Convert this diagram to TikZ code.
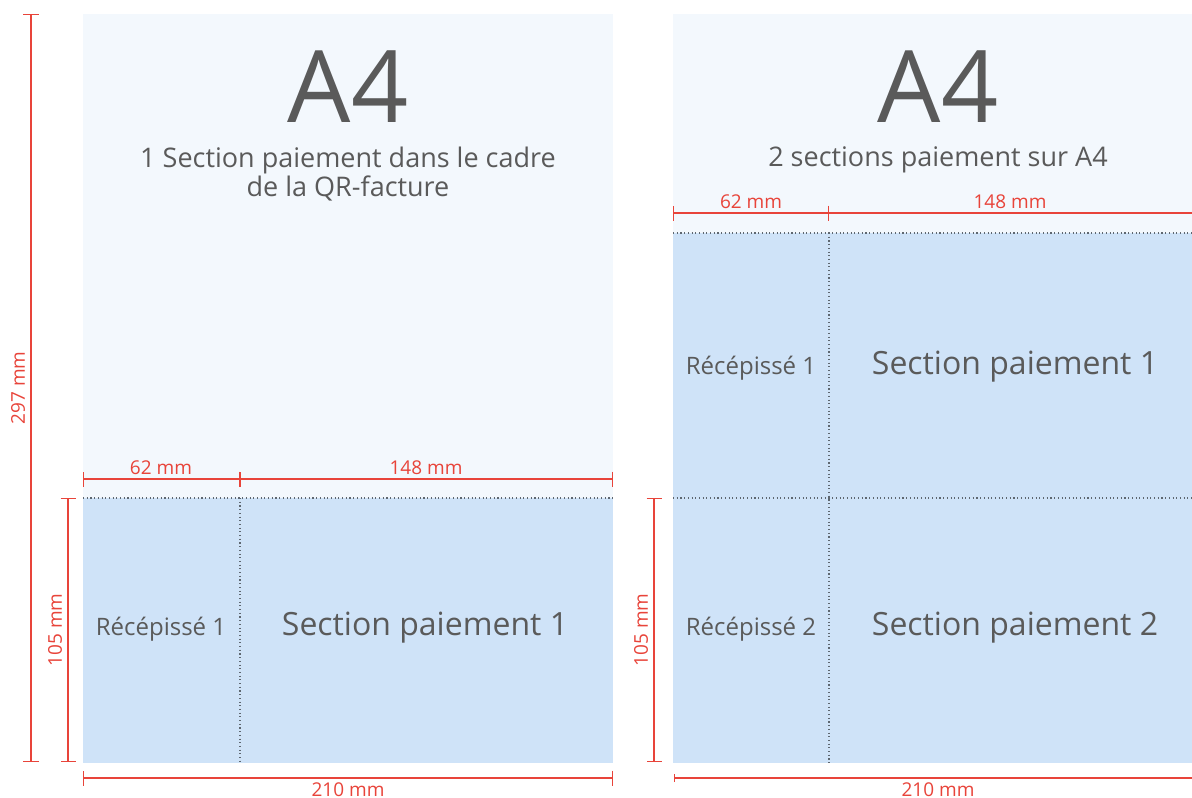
\documentclass[tikz,border=0pt]{standalone}
\usepackage{fontspec}
\setmainfont{Open Sans}
\usetikzlibrary{arrows.meta}
\definecolor{txtgray}{HTML}{5A5A5A}
\definecolor{dimred}{HTML}{E8443A}
\definecolor{palepage}{HTML}{F3F8FD}
\definecolor{slipblue}{HTML}{CFE3F8}
\definecolor{dotgray}{HTML}{5E6770}
\tikzset{
  dimline/.style={draw=dimred, line width=1.3pt},
  dimtick/.style={{Bar[width=#1,line width=1.3pt]}-{Bar[width=#1,line width=1.3pt]}},
  dimlabel/.style={text=dimred, inner sep=0pt, font=\fontsize{19}{21}\selectfont},
  cutline/.style={draw=dotgray, line width=1.1pt, dash pattern=on 1.1pt off 2.6pt},
  bigtitle/.style={text=txtgray, inner sep=0pt, anchor=base, font=\fontsize{100}{104}\selectfont},
  subtitle/.style={text=txtgray, inner sep=0pt, align=center, font=\fontsize{27}{29}\selectfont},
  paytext/.style={text=txtgray, inner sep=0pt, anchor=base, font=\fontsize{32}{34}\selectfont},
  receipttext/.style={text=txtgray, inner sep=0pt, anchor=base, font=\fontsize{24}{26}\selectfont}
}
\begin{document}
\begin{tikzpicture}[x=1pt, y=-1pt]
   \useasboundingbox (0,0) rectangle (1192,798);

   % left sheet
   \coordinate (L-nw) at (83,14);
   \coordinate (L-se) at (613,763);
   \coordinate (L-cut) at (240,498);
   \fill[palepage] (L-nw) rectangle (L-se);
   \fill[slipblue] (L-nw |- L-cut) rectangle (L-se);
   \draw[cutline] (L-nw |- L-cut) -- (L-se |- L-cut);
   \draw[cutline] (L-cut) -- (L-cut |- L-se);

   % right sheet
   \coordinate (R-nw) at (673,14);
   \coordinate (R-se) at (1192,763);
   \coordinate (R-cut) at (829,233);
   \coordinate (R-mid) at (829,498);
   \fill[palepage] (R-nw) rectangle (R-se);
   \fill[slipblue] (R-nw |- R-cut) rectangle (R-se);
   \draw[cutline] (R-nw |- R-cut) -- (R-se |- R-cut);
   \draw[cutline] (R-nw |- R-mid) -- (R-se |- R-mid);
   \draw[cutline] (R-cut) -- (R-cut |- R-se);

   % texts
   \node[bigtitle] (L-a4) at (348,122) {A4};
   \node[subtitle] (L-sub) at (348,174) {1 Section paiement dans le cadre\\de la QR-facture};
   \node[receipttext] (L-rec1) at (161,635) {Récépissé 1};
   \node[paytext] (L-pay1) at (425,635) {Section paiement 1};

   \node[bigtitle] (R-a4) at (938,122) {A4};
   \node[subtitle] (R-sub) at (938,160) {2 sections paiement sur A4};
   \node[receipttext] (R-rec1) at (751,374) {Récépissé 1};
   \node[paytext] (R-pay1) at (1015,374) {Section paiement 1};
   \node[receipttext] (R-rec2) at (751,635) {Récépissé 2};
   \node[paytext] (R-pay2) at (1015,635) {Section paiement 2};

   % dimensions, left sheet
   \coordinate (d297-t) at (31,14);
   \coordinate (d297-b) at (31,762);
   \draw[dimline, dimtick=16pt] (d297-t) -- (d297-b);
   \node[dimlabel, rotate=90] (L-297) at (18,388) {297 mm};
   \coordinate (L105-t) at (68,498);
   \coordinate (L105-b) at (68,762);
   \draw[dimline, dimtick=15pt] (L105-t) -- (L105-b);
   \node[dimlabel, rotate=90] (L-105) at (55,630) {105 mm};
   \coordinate (L62-a) at (83,479);
   \coordinate (L62-b) at (240,479);
   \coordinate (L148-b) at (613,479);
   \draw[dimline, dimtick=15pt] (L62-a) -- (L62-b);
   \draw[dimline, dimtick=15pt] (L62-b) -- (L148-b);
   \node[dimlabel, anchor=base] (L-62) at (161,474) {62 mm};
   \node[dimlabel, anchor=base] (L-148) at (426,474) {148 mm};
   \coordinate (L210-a) at (83,778);
   \coordinate (L210-b) at (613,778);
   \draw[dimline, dimtick=15pt] (L210-a) -- (L210-b);
   \node[dimlabel, anchor=base] (L-210) at (348,796) {210 mm};

   % dimensions, right sheet
   \coordinate (R105-t) at (654,498);
   \coordinate (R105-b) at (654,762);
   \draw[dimline, dimtick=15pt] (R105-t) -- (R105-b);
   \node[dimlabel, rotate=90] (R-105) at (641,630) {105 mm};
   \coordinate (R62-a) at (673,213);
   \coordinate (R62-b) at (829,213);
   \coordinate (R148-b) at (1192,213);
   \draw[dimline, dimtick=15pt] (R62-a) -- (R62-b);
   \draw[dimline] (R62-b) -- (R148-b);
   \node[dimlabel, anchor=base] (R-62) at (751,208) {62 mm};
   \node[dimlabel, anchor=base] (R-148) at (1010,208) {148 mm};
   \coordinate (R210-a) at (674,778);
   \coordinate (R210-b) at (1192,778);
   \draw[dimline, {Bar[width=8pt,line width=1.3pt]}-] (R210-a) -- (R210-b);
   \node[dimlabel, anchor=base] (R-210) at (938,796) {210 mm};
\end{tikzpicture}
\end{document}
